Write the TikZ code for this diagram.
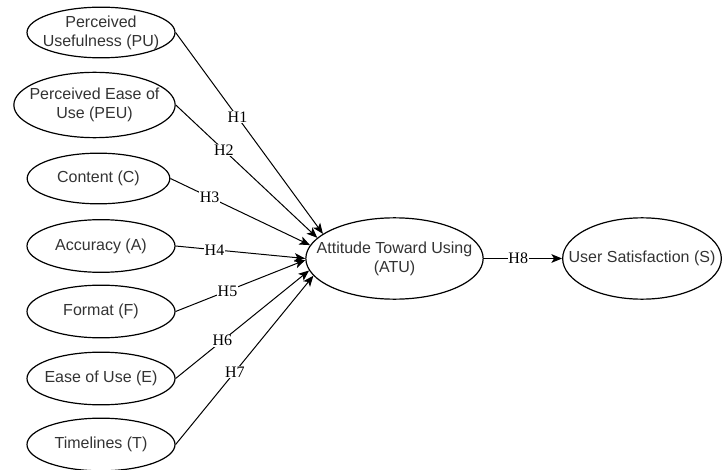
\documentclass[tikz,border=0pt]{standalone}
\usepackage{fontspec}
\setmainfont{Liberation Serif}
\setsansfont{Liberation Sans}
\usetikzlibrary{arrows.meta, shapes.geometric}
\begin{document}
\begin{tikzpicture}[
        x=0.75pt, y=-0.75pt,
        construct/.style={draw, ellipse, align=center, line width=0.9pt,
            inner xsep=-15pt, inner ysep=-10pt, minimum width=111pt, minimum height=39.5pt,
            font=\sffamily\fontsize{12}{14.4}\selectfont, text=black!80},
        hyp/.style={fill=white, inner sep=0.5pt, font=\fontsize{12}{14}\selectfont},
        link/.style={-{Stealth[length=8pt, width=6.5pt, inset=2pt]}, line width=0.75pt}
    ]
        \useasboundingbox (0,0) rectangle (723,470);
        \node[construct, minimum height=38pt] (pu) at (101,32.5) {Perceived\\Usefulness (PU)};
        \node[construct, minimum width=121pt, minimum height=49pt] (peu) at (94.5,105)
            {Perceived Ease of\\Use (PEU)};
        \node[construct, minimum width=107pt, minimum height=38pt] (c) at (98.5,178.5) {Content (C)};
        \node[construct] (a) at (101,246) {Accuracy (A)};
        \node[construct] (f) at (101,311.5) {Format (F)};
        \node[construct] (e) at (101,378.5) {Ease of Use (E)};
        \node[construct] (t) at (101,444.5) {Timelines (T)};
        \node[construct, minimum width=133pt, minimum height=61pt] (atu) at (394.5,258.5)
            {Attitude Toward Using\\(ATU)};
        \node[construct, minimum width=119pt, minimum height=61pt] (us) at (642,258.5)
            {User Satisfaction (S)};
        \draw[link] (pu.east) -- node[hyp, pos=.42] {H1} (atu.161);
        \draw[link] (peu.east) -- node[hyp, pos=.34] {H2} (atu.165);
        \draw[link] (c.east) -- node[hyp, pos=.28] {H3} (atu.171);
        \draw[link] (a.east) -- node[hyp, pos=.30] {H4} (atu.180);
        \draw[link] (f.east) -- node[hyp, pos=.40] {H5} (atu.181);
        \draw[link] (e.east) -- node[hyp, pos=.35] {H6} (atu.188);
        \draw[link] (t.east) -- node[hyp, pos=.43] {H7} (atu.192);
        \draw[link] (atu) -- node[hyp, pos=.44] {H8} (us);
    \end{tikzpicture}
\end{document}
